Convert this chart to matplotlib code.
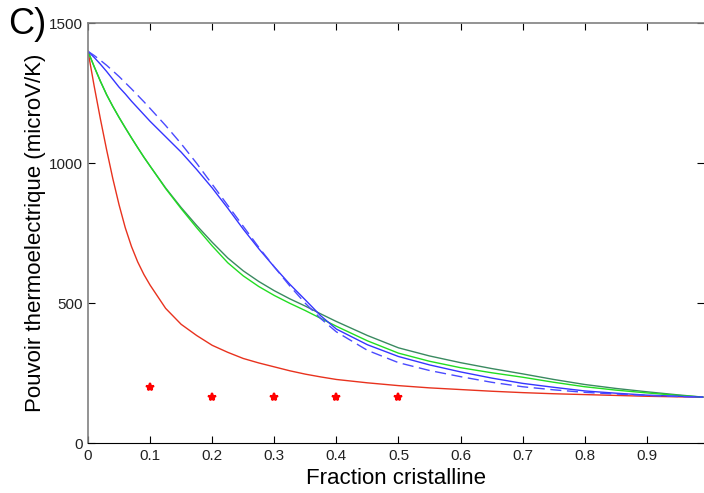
import matplotlib
matplotlib.use('Agg')
import matplotlib.pyplot as plt

plt.rcParams['font.family'] = ['Liberation Sans', 'DejaVu Sans']

# fraction cristalline (x) and curves
frac = [0, 0.01, 0.02, 0.03, 0.04, 0.05, 0.06, 0.07, 0.08, 0.09, 0.1,
        0.125, 0.15, 0.175, 0.2, 0.225, 0.25, 0.275, 0.3, 0.325, 0.35,
        0.375, 0.4, 0.45, 0.5, 0.55, 0.6, 0.65, 0.7, 0.75, 0.8, 0.85,
        0.9, 0.95, 0.99]

red = [1400, 1275, 1158, 1048, 945, 852, 770, 703, 648, 603, 565,
       482, 425, 385, 350, 325, 303, 287, 273, 259, 247,
       237, 228, 216, 206, 198, 192, 186, 181, 177, 174, 171,
       168, 166, 165]
green_dark = [1400, 1345, 1293, 1245, 1203, 1164, 1127, 1091, 1056, 1022, 990,
              912, 842, 778, 718, 662, 616, 578, 545, 516, 490,
              462, 435, 385, 341, 312, 288, 267, 248, 228, 210, 196,
              184, 173, 165]
green = [1400, 1345, 1293, 1245, 1203, 1164, 1127, 1091, 1056, 1022, 990,
         910, 838, 770, 705, 645, 598, 560, 528, 500, 474,
         446, 418, 366, 322, 293, 270, 252, 236, 218, 202, 190,
         180, 171, 165]
blue = [1400, 1378, 1354, 1328, 1300, 1272, 1248, 1222, 1198, 1174, 1150,
        1095, 1040, 978, 912, 840, 765, 695, 630, 568, 512,
        455, 408, 352, 310, 280, 255, 233, 214, 200, 187, 179,
        172, 168, 165]
blue_dash = [1400, 1385, 1368, 1350, 1330, 1310, 1288, 1266, 1243, 1220, 1196,
             1135, 1070, 1000, 925, 850, 775, 700, 630, 562, 500,
             445, 398, 332, 288, 260, 238, 218, 202, 191, 182, 176,
             171, 167, 165]

# measured points
pts_x = [0.1, 0.2, 0.3, 0.4, 0.5]
pts_y = [200, 165, 165, 165, 165]

fig = plt.figure(figsize=(7.04, 4.93), dpi=100)
ax = fig.add_axes([0.125, 0.1008, 0.875, 0.8519])

ax.plot(frac, red, color='#e8321e', lw=1.0)
ax.plot(frac, green_dark, color='#3a8a60', lw=1.0)
ax.plot(frac, green, color='#22dd22', lw=1.0)
ax.plot(frac, blue, color='#3535ff', lw=1.0)
ax.plot(frac, blue_dash, color='#4a4aff', lw=1.0, dashes=(8, 4))
ax.plot(pts_x, pts_y, '*', color='red', ms=6, mew=1.5, ls='none')

ax.set_xlim(0, 0.992)
ax.set_ylim(0, 1500)
ax.set_xticks([0, 0.1, 0.2, 0.3, 0.4, 0.5, 0.6, 0.7, 0.8, 0.9])
ax.set_xticklabels(['0', '0.1', '0.2', '0.3', '0.4', '0.5', '0.6', '0.7', '0.8', '0.9'])
ax.set_yticks([0, 500, 1000, 1500])

ax.tick_params(direction='in', length=5, width=0.8, labelsize=11,
               labelcolor='#222222', top=True, right=True, pad=4)
for s in ['left', 'top']:
    ax.spines[s].set_color('#808080')
    ax.spines[s].set_linewidth(1.2)
ax.spines['bottom'].set_color('black')
ax.spines['right'].set_visible(False)

ax.set_xlabel('Fraction cristalline', fontsize=16, labelpad=4)
ax.set_ylabel('Pouvoir thermoelectrique (microV/K)', fontsize=16, labelpad=2)

fig.text(0.012, 0.985, 'C)', fontsize=26, va='top', ha='left')

plt.savefig('out.png', dpi=100)
